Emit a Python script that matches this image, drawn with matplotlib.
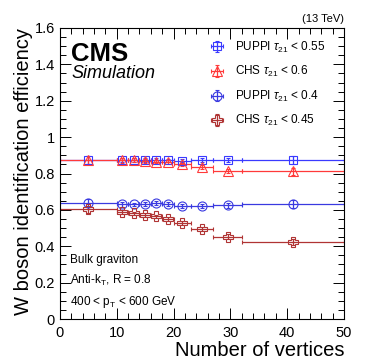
import numpy as np
import matplotlib.pyplot as plt
from matplotlib.ticker import MultipleLocator

plt.rcParams['font.family'] = ['Liberation Sans', 'DejaVu Sans']
plt.rcParams['mathtext.fontset'] = 'custom'
plt.rcParams['mathtext.rm'] = 'Liberation Sans'
plt.rcParams['mathtext.it'] = 'Liberation Sans:italic'

# bins in number of vertices
bin_lo = np.array([0, 10, 12, 14, 16, 18, 20, 23, 27, 32])
bin_hi = np.array([10, 12, 14, 16, 18, 20, 23, 27, 32, 50])

puppi_055 = [0.875, 0.873, 0.876, 0.874, 0.875, 0.872, 0.871, 0.873, 0.875, 0.875]
puppi_055_err = [0.022, 0.012, 0.010, 0.010, 0.010, 0.010, 0.010, 0.010, 0.012, 0.020]
chs_06 = [0.874, 0.872, 0.874, 0.870, 0.866, 0.862, 0.850, 0.837, 0.815, 0.812]
chs_06_err = [0.022, 0.012, 0.010, 0.010, 0.010, 0.010, 0.010, 0.010, 0.012, 0.020]
puppi_04 = [0.637, 0.630, 0.630, 0.633, 0.639, 0.632, 0.622, 0.620, 0.625, 0.632]
puppi_04_err = [0.022, 0.012, 0.010, 0.010, 0.010, 0.010, 0.010, 0.010, 0.012, 0.020]
chs_045 = [0.604, 0.590, 0.581, 0.571, 0.564, 0.549, 0.527, 0.494, 0.453, 0.423]
chs_045_err = [0.020, 0.012, 0.010, 0.010, 0.010, 0.010, 0.010, 0.010, 0.012, 0.018]

series = [
    (puppi_055, puppi_055_err, 's', 6, '#3a3aff', r'PUPPI $\tau_{21}$ < 0.55'),
    (chs_06, chs_06_err, '^', 6.5, '#ff3a3a', r'CHS $\tau_{21}$ < 0.6'),
    (puppi_04, puppi_04_err, 'o', 6.5, '#3a3ae0', r'PUPPI $\tau_{21}$ < 0.4'),
    (chs_045, chs_045_err, 'P', 7.5, '#b03434', r'CHS $\tau_{21}$ < 0.45'),
]

x = (bin_lo + bin_hi) / 2
xerr = (bin_hi - bin_lo) / 2

fig = plt.figure(figsize=(3.74, 3.63), dpi=100)
ax = fig.add_axes([0.160, 0.121, 0.760, 0.802])

for vals, err, mk, ms, col, lab in series:
    ax.errorbar(x, vals, xerr=xerr, yerr=err, fmt=mk, color=col, mfc='none',
                mec=col, ms=ms, mew=0.8, lw=0.9, capsize=1.2, capthick=0.8,
                label=lab)

ax.set_xlim(0, 50)
ax.set_ylim(0, 1.6)
ax.xaxis.set_major_locator(MultipleLocator(10))
ax.xaxis.set_minor_locator(MultipleLocator(2))
ax.yaxis.set_major_locator(MultipleLocator(0.2))
ax.yaxis.set_minor_locator(MultipleLocator(0.05))
ax.set_yticks(np.arange(0, 1.61, 0.2))
ax.set_yticklabels(['0', '0.2', '0.4', '0.6', '0.8', '1', '1.2', '1.4', '1.6'])
ax.tick_params(which='both', direction='in', top=True, right=True, labelsize=10.5)
ax.tick_params(which='major', length=8, width=0.7)
ax.tick_params(which='minor', length=4, width=0.7)
ax.tick_params(axis='x', pad=5)
for s in ax.spines.values():
    s.set_linewidth(0.8)

ax.set_xlabel('Number of vertices', fontsize=14.5, loc='right', labelpad=1)
ax.set_ylabel('W boson identification efficiency', fontsize=14.5, loc='top', labelpad=1)

ax.text(0.04, 0.952, 'CMS', transform=ax.transAxes, fontsize=18.5, fontweight='bold',
        va='top', ha='left')
ax.text(0.04, 0.872, 'Simulation', transform=ax.transAxes, fontsize=13, style='italic',
        va='top', ha='left')
ax.text(1.0, 1.012, '(13 TeV)', transform=ax.transAxes, fontsize=8, ha='right', va='bottom')

ax.text(0.035, 0.203, 'Bulk graviton', transform=ax.transAxes, fontsize=8.5, va='center')
ax.text(0.035, 0.131, r'Anti-k$_\mathregular{T}$, R = 0.8', transform=ax.transAxes,
        fontsize=8.5, va='center')
ax.text(0.035, 0.058, r'400 < p$_\mathregular{T}$ < 600 GeV', transform=ax.transAxes,
        fontsize=8.5, va='center')

ax.legend(loc='upper right', bbox_to_anchor=(0.935, 0.96), frameon=False, fontsize=8.5,
          handlelength=2.3, labelspacing=0.8, handletextpad=0.4, borderaxespad=0,
          borderpad=0)

fig.savefig('out.png', dpi=100)
